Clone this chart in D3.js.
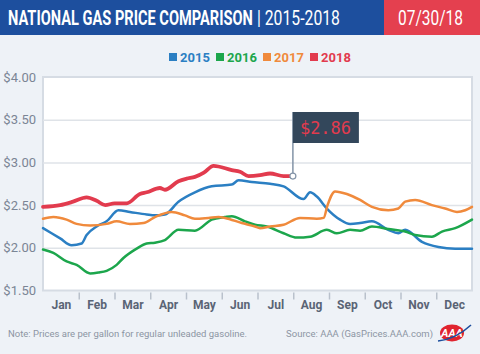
<!DOCTYPE html>
<html>
<head>
<meta charset="utf-8">
<script src="https://cdn.jsdelivr.net/npm/d3@7"></script>
<style>
  body { margin: 0; background: #eef2f7; }
  svg text { font-family: "Liberation Sans Narrow", "Roboto", "DejaVu Sans", sans-serif; }
</style>
</head>
<body>
<div id="canvas"></div>
<script>
"use strict";

let svgWidth = 480;
let svgHeight = 354;

let margin = { top: 77, right: 8, bottom: 63.5, left: 43 };

/* ---------------- DATA ---------------- */
// [month position (0 = Jan 1, 12 = Dec 31), price in $]
let prices2015 = [[0,2.23],[0.48,2.11],[0.8,2.03],[1.08,2.05],[1.22,2.15],[1.5,2.25],[1.78,2.31],[2.11,2.44],[2.43,2.42],[2.9,2.39],[3.13,2.38],[3.41,2.39],[3.79,2.54],[4.25,2.65],[4.72,2.72],[5.28,2.74],[5.47,2.79],[5.84,2.77],[6.35,2.75],[6.73,2.72],[7.29,2.57],[7.47,2.65],[7.66,2.60],[7.94,2.46],[8.31,2.33],[8.59,2.28],[8.87,2.29],[9.2,2.31],[9.66,2.21],[9.94,2.17],[10.13,2.21],[10.6,2.07],[11.06,2.01],[11.53,1.99],[12,1.99]];
let prices2016 = [[0,1.98],[0.29,1.94],[0.66,1.84],[0.94,1.80],[1.32,1.70],[1.55,1.71],[1.78,1.73],[2.06,1.80],[2.25,1.88],[2.62,1.99],[2.9,2.05],[3.13,2.06],[3.41,2.09],[3.79,2.21],[4.25,2.20],[4.72,2.33],[5.09,2.36],[5.28,2.37],[5.65,2.31],[5.93,2.27],[6.26,2.25],[6.73,2.17],[7.1,2.12],[7.47,2.13],[7.94,2.21],[8.22,2.17],[8.59,2.21],[8.87,2.20],[9.2,2.25],[9.66,2.22],[10.13,2.19],[10.41,2.15],[10.88,2.13],[11.16,2.19],[11.53,2.23],[12,2.33]];
let prices2017 = [[0,2.34],[0.29,2.36],[0.66,2.33],[0.94,2.28],[1.32,2.26],[1.78,2.28],[2.06,2.31],[2.43,2.28],[2.81,2.29],[3.13,2.36],[3.6,2.42],[3.97,2.38],[4.25,2.34],[4.63,2.35],[4.91,2.36],[5.09,2.35],[5.56,2.29],[5.93,2.25],[6.07,2.23],[6.35,2.25],[6.73,2.27],[7.19,2.35],[7.66,2.34],[7.85,2.35],[7.96,2.50],[8.17,2.66],[8.5,2.63],[8.87,2.56],[9.2,2.48],[9.66,2.44],[9.94,2.46],[10.13,2.54],[10.41,2.56],[10.88,2.50],[11.25,2.46],[11.58,2.42],[11.81,2.44],[12,2.48]];
let prices2018 = [[0,2.48],[0.48,2.50],[0.84,2.54],[1.22,2.59],[1.5,2.55],[1.74,2.50],[2.0,2.52],[2.34,2.52],[2.71,2.63],[2.9,2.65],[3.27,2.70],[3.41,2.68],[3.79,2.78],[4.02,2.81],[4.25,2.83],[4.5,2.88],[4.77,2.96],[5.28,2.91],[5.51,2.89],[5.75,2.84],[6.07,2.85],[6.35,2.87],[6.73,2.84],[6.99,2.84]];

let years = ["2015", "2016", "2017", "2018"];
let yearColors = ["#2b7fc3", "#1ca64c", "#f08a3c", "#e23b4e"];
let months = ["Jan", "Feb", "Mar", "Apr", "May", "Jun", "Jul", "Aug", "Sep", "Oct", "Nov", "Dec"];
let priceTicks = [1.5, 2.0, 2.5, 3.0, 3.5, 4.0];
let currentPrice = "$2.86";

let series = [prices2015, prices2016, prices2017, prices2018];

let svg = d3.select("#canvas")
    .append("svg")
    .attr("width", svgWidth)
    .attr("height", svgHeight);

svg.append("rect")
    .attr("width", svgWidth)
    .attr("height", svgHeight)
    .attr("fill", "#eef2f7");

/* ---------------- HEADER ---------------- */
svg.append("rect")
    .attr("width", 384).attr("height", 35)
    .attr("fill", "#1d4f9e");
svg.append("rect")
    .attr("x", 384).attr("width", svgWidth - 384).attr("height", 35)
    .attr("fill", "#e4404f");

// squeeze a text horizontally so it spans the given width (condensed look)
function squeezedText(x, y, width, str, weight) {
    let t = svg.append("text")
        .attr("x", 0).attr("y", 0)
        .attr("font-size", "20px")
        .attr("font-weight", weight)
        .attr("fill", "white")
        .text(str);
    let natural = t.node().getComputedTextLength();
    t.attr("transform", "translate(" + x + "," + y + ") scale(" + (width / natural) + ",1)");
    return t;
}

squeezedText(8, 25, 245, "NATIONAL GAS PRICE COMPARISON", "bold");
squeezedText(257, 25, 83, "| 2015-2018", "normal");
squeezedText(398, 25, 65, "07/30/18", "normal");

/* ---------------- LEGEND ---------------- */
let legendX = [169, 216, 263, 310];
years.forEach(function (yr, i) {
    svg.append("rect")
        .attr("x", legendX[i]).attr("y", 53)
        .attr("width", 8).attr("height", 8)
        .attr("fill", yearColors[i]);
    svg.append("text")
        .attr("x", legendX[i] + 11).attr("y", 62)
        .attr("font-size", "13px").attr("font-weight", "bold")
        .attr("fill", yearColors[i])
        .text(yr);
});

/* ---------------- SCALES ---------------- */
let xScale = d3.scaleLinear()
    .domain([0, 12])
    .range([margin.left, svgWidth - margin.right]);

let yScale = d3.scaleLinear()
    .domain([1.5, 4])
    .range([svgHeight - margin.bottom, margin.top]);

/* ---------------- PLOT AREA ---------------- */
svg.append("rect")
    .attr("x", margin.left)
    .attr("y", margin.top)
    .attr("width", xScale(12) - xScale(0))
    .attr("height", yScale(1.5) - yScale(4))
    .attr("fill", "white")
    .attr("stroke", "#d6dce4")
    .attr("stroke-width", 2);

let grid = svg.append("g")
    .attr("transform", "translate(" + margin.left + ",0)")
    .call(d3.axisLeft(yScale)
        .tickValues([2.0, 2.5, 3.0, 3.5])
        .tickSize(-(xScale(12) - xScale(0)))
        .tickFormat(""));
grid.select(".domain").remove();
grid.selectAll("line").attr("stroke", "#dfe3e8").attr("stroke-width", 1.5);

let yAxis = svg.append("g")
    .attr("transform", "translate(36,0)")
    .call(d3.axisLeft(yScale)
        .tickValues(priceTicks)
        .tickSize(0)
        .tickPadding(0)
        .tickFormat(d3.format("$.2f")));
yAxis.select(".domain").remove();
yAxis.selectAll("text")
    .attr("font-size", "13px")
    .attr("fill", "#7b8595")
    .style("font-family", "\"Liberation Sans Narrow\", Roboto, sans-serif");

/* ---- month separators + labels ---- */
let sepAxis = svg.append("g")
    .attr("transform", "translate(0," + (yScale(1.5) + 2) + ")")
    .call(d3.axisBottom(xScale)
        .tickValues(d3.range(1, 12))
        .tickSize(7)
        .tickFormat(""));
sepAxis.select(".domain").remove();
sepAxis.selectAll("line").attr("stroke", "#b9c1cc").attr("stroke-width", 1.5);

let monthAxis = svg.append("g")
    .attr("transform", "translate(0," + (yScale(1.5) + 10) + ")")
    .call(d3.axisBottom(xScale)
        .tickValues(d3.range(12).map(d => d + 0.5))
        .tickSize(0)
        .tickPadding(0)
        .tickFormat((d, i) => months[i]));
monthAxis.select(".domain").remove();
monthAxis.selectAll("text")
    .attr("font-size", "12px")
    .attr("font-weight", "bold")
    .attr("fill", "#5a6475")
    .style("font-family", "\"Liberation Sans Narrow\", Roboto, sans-serif");

/* ---------------- LINES ---------------- */
let line = d3.line()
    .x(d => xScale(d[0]))
    .y(d => yScale(d[1]))
    .curve(d3.curveMonotoneX);

series.forEach(function (data, i) {
    svg.append("path")
        .datum(data)
        .attr("d", line)
        .attr("fill", "none")
        .attr("stroke", yearColors[i])
        .attr("stroke-width", i === 3 ? 3.8 : 2.5)
        .attr("stroke-linejoin", "round")
        .attr("stroke-linecap", "round");
});

/* ---------------- CURRENT PRICE FLAG ---------------- */
let last = prices2018[prices2018.length - 1];
let flagX = xScale(last[0]);
let flagY = yScale(last[1]);

svg.append("line")
    .attr("x1", flagX).attr("y1", 112)
    .attr("x2", flagX).attr("y2", flagY)
    .attr("stroke", "#8393a7")
    .attr("stroke-width", 1.5);

svg.append("rect")
    .attr("x", flagX).attr("y", 112)
    .attr("width", 66).attr("height", 31)
    .attr("fill", "#33475b");

svg.append("text")
    .attr("x", flagX + 7).attr("y", 134)
    .attr("font-size", "17px")
    .attr("fill", "#e23b4e")
    .style("font-family", "\"DejaVu Sans Mono\", monospace")
    .text(currentPrice);

svg.append("circle")
    .attr("cx", flagX).attr("cy", flagY)
    .attr("r", 3)
    .attr("fill", "white")
    .attr("stroke", "#8393a7")
    .attr("stroke-width", 1.2);

/* ---------------- FOOTER ---------------- */
svg.append("text")
    .attr("x", 8).attr("y", 337)
    .attr("font-size", "9.5px")
    .attr("fill", "#8c95a3")
    .text("Note: Prices are per gallon for regular unleaded gasoline.");

svg.append("text")
    .attr("x", 433).attr("y", 337)
    .attr("text-anchor", "end")
    .attr("font-size", "9.5px")
    .attr("fill", "#8c95a3")
    .text("Source: AAA (GasPrices.AAA.com)");

/* ---- AAA logo ---- */
let logo = svg.append("g").attr("transform", "translate(452,333)");
logo.append("ellipse")
    .attr("rx", 12).attr("ry", 8.5)
    .attr("fill", "#e0242f");
logo.append("text")
    .attr("y", 3.5)
    .attr("text-anchor", "middle")
    .attr("font-size", "11px")
    .attr("font-weight", "bold")
    .attr("font-style", "italic")
    .attr("fill", "white")
    .text("AAA");
logo.append("path")
    .attr("d", "M -14 8 Q 4 6 19 -8")
    .attr("fill", "none")
    .attr("stroke", "#1d4f9e")
    .attr("stroke-width", 1.6);
</script>
</body>
</html>
